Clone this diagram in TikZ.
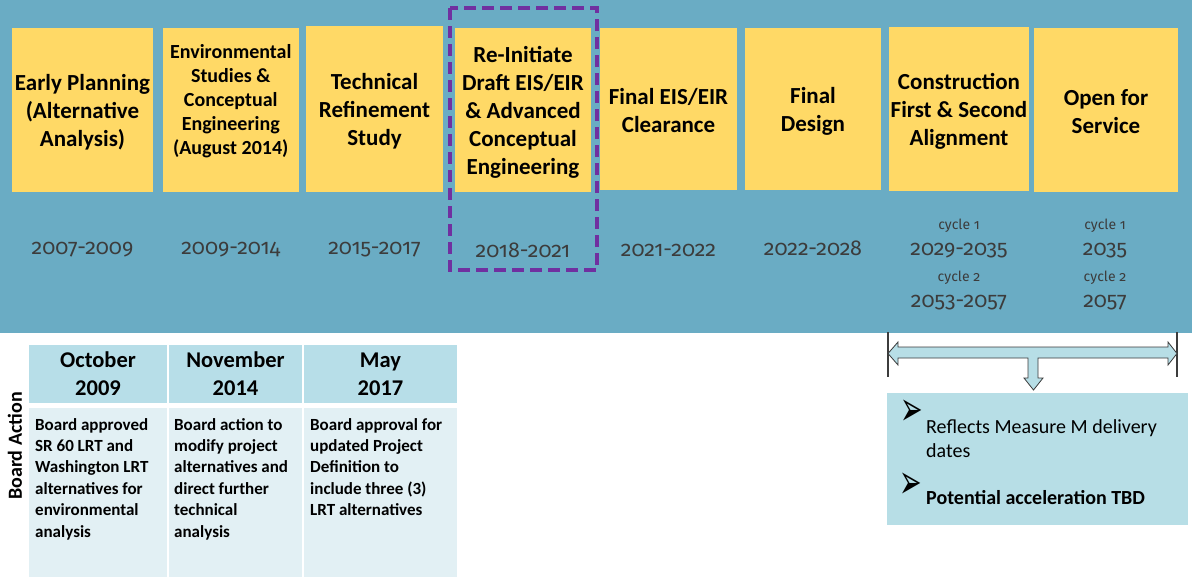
\documentclass[tikz,border=0pt]{standalone}
\usepackage{fontspec}
\setmainfont{Carlito}
\newfontfamily\yearfont[Numbers=OldStyle]{Fira Sans}
\newfontfamily\symfont{DejaVu Sans}
\definecolor{band}{RGB}{106,172,196}
\definecolor{yel}{RGB}{255,217,102}
\definecolor{purp}{RGB}{112,48,160}
\definecolor{hdr}{RGB}{183,222,232}
\definecolor{bdy}{RGB}{226,240,244}
\definecolor{note}{RGB}{183,222,230}
\definecolor{yeargray}{RGB}{60,60,60}
\definecolor{linegray}{RGB}{60,60,60}
\tikzset{
  ybox/.style={fill=yel, draw=none, inner sep=0pt},
  btitle/.style={inner sep=0pt, align=center, font=\bfseries\fontsize{23}{28}\selectfont},
  ytxt/.style={inner sep=0pt, align=center, font=\bfseries\fontsize{20}{24}\selectfont},
  yeartxt/.style={font=\yearfont\fontsize{21.5}{26}\selectfont, text=yeargray, inner sep=0pt},
  cyctxt/.style={font=\yearfont\fontsize{14}{17}\selectfont, text=yeargray, inner sep=0pt},
  hcell/.style={fill=hdr, inner sep=0pt, minimum height=58pt},
  htxt/.style={inner sep=0pt, align=center, font=\bfseries\fontsize{22.5}{28}\selectfont},
  bcell/.style={fill=bdy, inner sep=0pt, minimum height=169pt},
  btxt/.style={font=\bfseries\fontsize{17}{21.4}\selectfont, align=left, inner sep=0pt, anchor=base west},
  bullet/.style={font=\symfont\fontsize{30}{30}\selectfont, inner sep=0pt},
  ntxt/.style={font=\fontsize{20}{24}\selectfont, align=left, inner sep=0pt, anchor=base west},
}
\begin{document}
\begin{tikzpicture}[x=1pt,y=-1pt]
\useasboundingbox (0,0) rectangle (1192,587);
\fill[white] (0,0) rectangle (1192,587);
% band
\fill[band] (0,0) rectangle (1192,333);

% yellow boxes
\node[ybox, minimum width=141pt, minimum height=164pt] (b1) at (82.5,110) {};
\node[ybox, minimum width=135.5pt, minimum height=164pt] (b2) at (230.75,110) {};
\node[ybox, minimum width=137pt, minimum height=166pt] (b3) at (374.5,109) {};
\node[ybox, minimum width=136pt, minimum height=164pt] (b4) at (523,110) {};
\node[ybox, minimum width=137pt, minimum height=162pt] (b5) at (668.5,109) {};
\node[ybox, minimum width=136pt, minimum height=162pt] (b6) at (813,109) {};
\node[ybox, minimum width=140pt, minimum height=164pt] (b7) at (959,109) {};
\node[ybox, minimum width=144pt, minimum height=164pt] (b8) at (1106,110) {};

\node[btitle] (t1) at (82.5,112) {Early Planning\\(Alternative\\Analysis)};
\node[ytxt] (t2) at (230.75,101) {Environmental\\Studies \&\\Conceptual\\Engineering\\(August 2014)};
\node[btitle] (t3) at (374.5,111) {Technical\\Refinement\\Study};
\node[btitle] (t4) at (523,112) {Re-Initiate\\Draft EIS/EIR\\\& Advanced\\Conceptual\\Engineering};
\node[btitle] (t5) at (668.5,111) {Final EIS/EIR\\Clearance};
\node[btitle] (t6) at (813,111.5) {Final\\Design};
\node[btitle] (t7) at (959,111) {Construction\\First \& Second\\Alignment};
\node[btitle] (t8) at (1106,112) {Open for\\Service};

% highlight
\draw[purp, line width=4pt, dash pattern=on 12pt off 6pt] (450,8) rectangle (597,270);

% years
\node[yeartxt] (y1) at (82.5,250) {2007-2009};
\node[yeartxt] (y2) at (230.75,250) {2009-2014};
\node[yeartxt] (y3) at (374.5,250) {2015-2017};
\node[yeartxt] (y4) at (523,250) {2018-2021};
\node[yeartxt] (y5) at (668.5,250) {2021-2022};
\node[yeartxt] (y6) at (813,248) {2022-2028};
\node[cyctxt] (c7a) at (959,226) {cycle 1};
\node[yeartxt] (y7a) at (959,251) {2029-2035};
\node[cyctxt] (c7b) at (959,278) {cycle 2};
\node[yeartxt] (y7b) at (959,303) {2053-2057};
\node[cyctxt] (c8a) at (1105,226) {cycle 1};
\node[yeartxt] (y8a) at (1105,251) {2035};
\node[cyctxt] (c8b) at (1105,278) {cycle 2};
\node[yeartxt] (y8b) at (1105,303) {2057};

% board action table
\node[rotate=90, inner sep=0pt, font=\bfseries\fontsize{20}{22}\selectfont] (ba) at (15,446) {Board Action};
\node[hcell, minimum width=138pt] (h1) at (98,374) {};
\node[hcell, minimum width=133pt] (h2) at (235.5,374) {};
\node[hcell, minimum width=153pt] (h3) at (380.5,374) {};
\node[htxt] (ht1) at (98,374) {October\\2009};
\node[htxt] (ht2) at (235.5,374) {November\\2014};
\node[htxt] (ht3) at (380.5,374) {May\\2017};
\node[bcell, minimum width=138pt] (r1) at (98,492.5) {};
\node[bcell, minimum width=133pt] (r2) at (235.5,492.5) {};
\node[bcell, minimum width=153pt] (r3) at (380.5,492.5) {};
\node[btxt] (s1) at (35,537) {Board approved\\SR 60 LRT and\\Washington LRT\\alternatives for\\environmental\\analysis};
\node[btxt] (s2) at (174,537) {Board action to\\modify project\\alternatives and\\direct further\\technical\\analysis};
\node[btxt] (s3) at (310,515.6) {Board approval for\\updated Project\\Definition to\\include three (3)\\LRT alternatives};

% span markers and arrow
\coordinate (lt) at (888,332); \coordinate (lb) at (888,377);
\coordinate (rt) at (1177,332); \coordinate (rb) at (1177,377);
\draw[linegray, line width=1.2pt] (lt) -- (lb);
\draw[linegray, line width=1.2pt] (rt) -- (rb);
\draw[fill=note, draw=linegray, line width=0.8pt, line join=miter]
  (888,353.5) -- (898,342) -- (898,347) -- (1168,347) -- (1168,342) -- (1177,353.5)
  -- (1168,365) -- (1168,358) -- (1038,358) -- (1038,378) -- (1043,378) -- (1033.5,390)
  -- (1024,378) -- (1028,378) -- (1028,358) -- (898,358) -- (898,365) -- cycle;

% note box
\node[fill=note, inner sep=0pt, minimum width=301pt, minimum height=132pt] (nb) at (1037.5,459) {};
\node[bullet] (k1) at (912,413) {\scalebox{0.9}[1.6]{➢}};
\node[ntxt] (n1) at (926,457) {Reflects Measure M delivery\\dates};
\node[bullet] (k2) at (911,486) {\scalebox{0.9}[1.6]{➢}};
\node[ntxt, font=\bfseries\fontsize{20}{24}\selectfont] (n2) at (926,504) {Potential acceleration TBD};
\end{tikzpicture}
\end{document}
